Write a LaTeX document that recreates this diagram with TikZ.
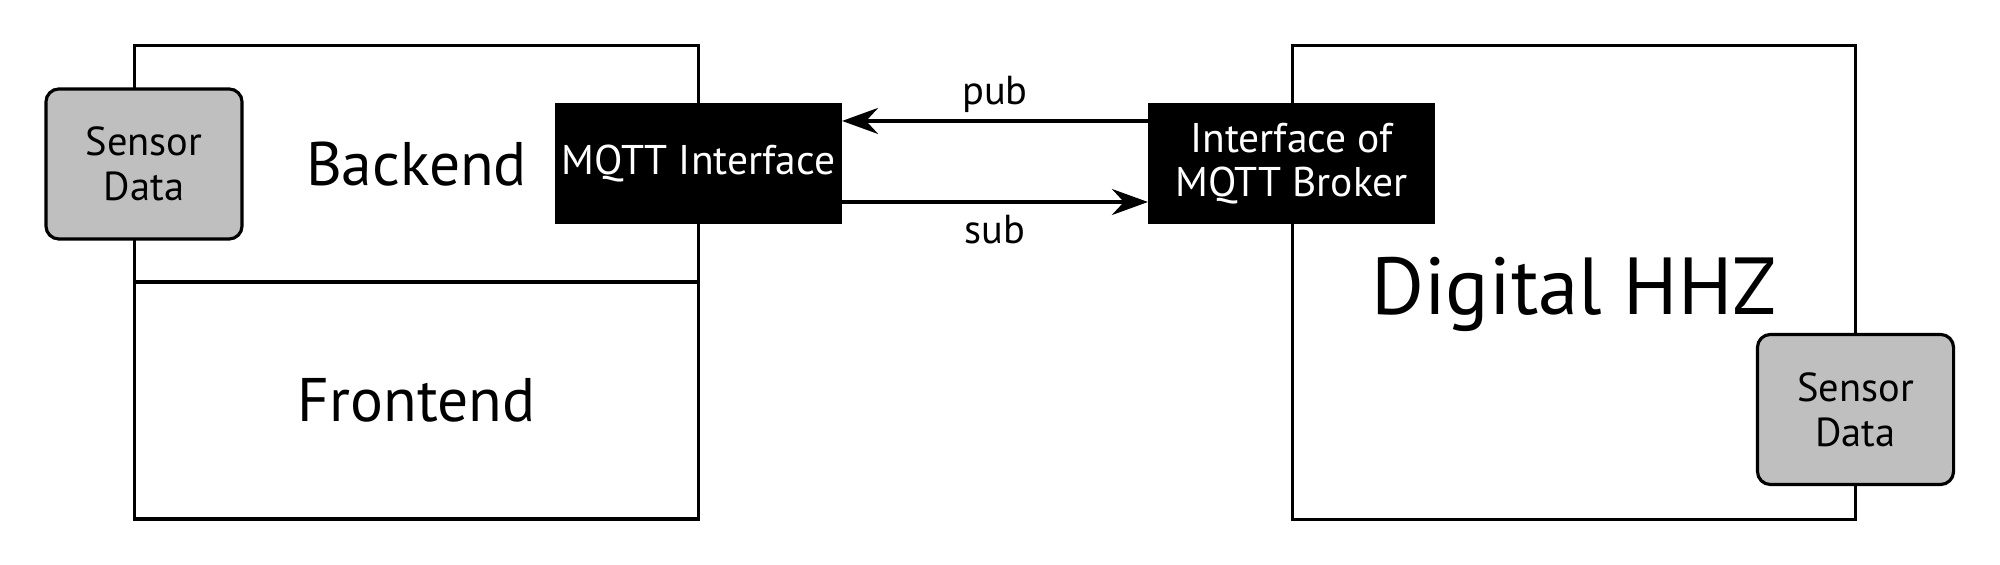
\documentclass[tikz,border=0pt]{standalone}
\usepackage{fontspec}
\setmainfont{PT Sans}
\usetikzlibrary{arrows.meta}
\begin{document}
\begin{tikzpicture}[x=0.01cm,y=-0.01cm,
  every node/.style={inner sep=0pt, outer sep=0pt},
  frame/.style={draw=black, line width=0.9pt, fill=white},
  sensorbox/.style={draw=black, line width=0.9pt, fill=black!25, rounded corners=0.13cm,
    minimum width=1.96cm, minimum height=1.5cm, align=center,
    font=\fontsize{11.5}{12.8}\selectfont},
  blackbox/.style={fill=black, text=white, minimum width=2.87cm, minimum height=1.21cm,
    align=center, font=\fontsize{11.8}{12.4}\selectfont},
  bigtext/.style={font=\fontsize{17.5}{20}\selectfont},
  hugetext/.style={font=\fontsize{23}{26}\selectfont},
  lbl/.style={font=\fontsize{11.5}{13}\selectfont},
  arr/.style={line width=0.9pt, -{Stealth[length=3.6mm, width=2.6mm, inset=1.2mm]}}
]
\useasboundingbox (0,0) rectangle (2000,565);
% left block
\node[frame, bigtext, minimum width=5.63cm, minimum height=2.36cm] (backend) at (416.5,164) {Backend};
\node[frame, bigtext, minimum width=5.63cm, minimum height=2.37cm] (frontend) at (416.5,400.5) {Frontend};
\node[sensorbox] (sensorL) at (144,164) {Sensor\\Data};
\node[blackbox] (mqtt) at (698.5,163.5) {MQTT Interface};
% right block
\node[frame, hugetext, minimum width=5.62cm, minimum height=4.73cm] (hhz) at (1574,282.5) {\raisebox{-0.12cm}[\height][\depth]{Digital HHZ}};
\node[blackbox] (broker) at (1291.5,163.5) {Interface of\\MQTT Broker};
\node[sensorbox] (sensorR) at (1855.5,409.5) {Sensor\\Data};
% connectors
\draw[arr] ([yshift=0.425cm]broker.west) -- ([yshift=0.425cm]mqtt.east)
  node[lbl, midway, above=0.08cm] (pub) {pub};
\draw[arr] ([yshift=-0.385cm]mqtt.east) -- ([yshift=-0.385cm]broker.west)
  node[lbl, midway, below=0.13cm] (sub) {sub};
\end{tikzpicture}
\end{document}
